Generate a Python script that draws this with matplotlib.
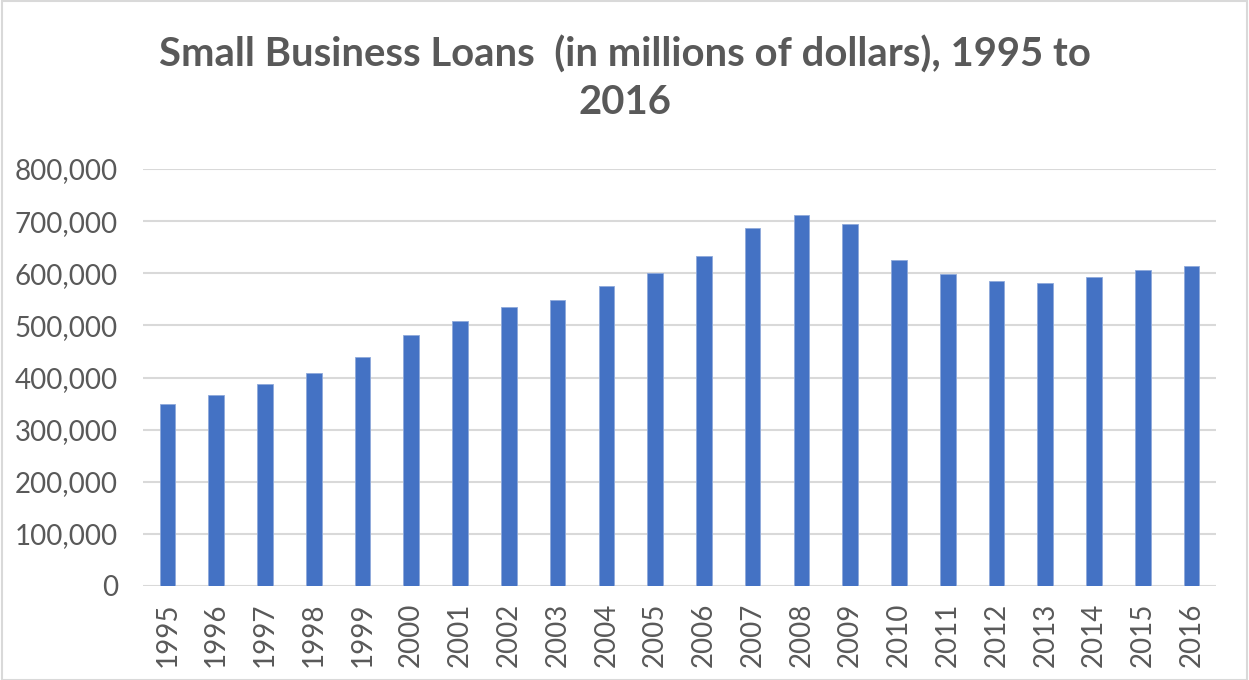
import matplotlib.pyplot as plt
from matplotlib.ticker import FuncFormatter, MultipleLocator
from matplotlib.patches import Rectangle

years = ['1995', '1996', '1997', '1998', '1999', '2000', '2001', '2002', '2003', '2004', '2005',
         '2006', '2007', '2008', '2009', '2010', '2011', '2012', '2013', '2014', '2015', '2016']
loans = [350000, 367000, 387000, 409000, 439000, 481000, 508000, 535000, 549000, 576000, 600000,
         633000, 687000, 711000, 695000, 626000, 598000, 586000, 581000, 593000, 607000, 614000]

plt.rcParams['font.family'] = ['Lato', 'DejaVu Sans']
grey = '#595959'

fig = plt.figure(figsize=(12.49, 6.80), dpi=100)
ax = fig.add_axes([143 / 1249, 1 - 586 / 680, (1216 - 143) / 1249, (586 - 169) / 680])

ax.bar(range(len(years)), loans, width=0.32, color='#4472C4', edgecolor='#8EA9DB', linewidth=0.6, zorder=3)
ax.set_xlim(-0.5, len(years) - 0.5)
ax.set_ylim(0, 800000)
ax.yaxis.set_major_locator(MultipleLocator(100000))
ax.yaxis.set_major_formatter(FuncFormatter(lambda v, p: f'{int(v):,}'))
ax.grid(axis='y', color='#d9d9d9', linewidth=1.5, zorder=0)
ax.set_xticks(range(len(years)))
ax.set_xticklabels(years, rotation=90)
ax.tick_params(axis='both', length=0, colors=grey, labelsize=20)
ax.tick_params(axis='y', pad=18)
ax.tick_params(axis='x', pad=12)
for s in ax.spines.values():
    s.set_visible(False)

fig.text(0.5, 1 - 55 / 680, 'Small Business Loans  (in millions of dollars), 1995 to',
         ha='center', va='center', fontsize=28.8, fontweight='bold', color=grey)
fig.text(0.5, 1 - 103 / 680, '2016', ha='center', va='center', fontsize=28.8, fontweight='bold', color=grey)

# chart area border
fig.patches.append(Rectangle((2 / 1249, 0), 1 - 4 / 1249, 1 - 1 / 680, transform=fig.transFigure,
                             fill=False, edgecolor='#d9d9d9', linewidth=1.5))

fig.savefig('out.png', dpi=100)
